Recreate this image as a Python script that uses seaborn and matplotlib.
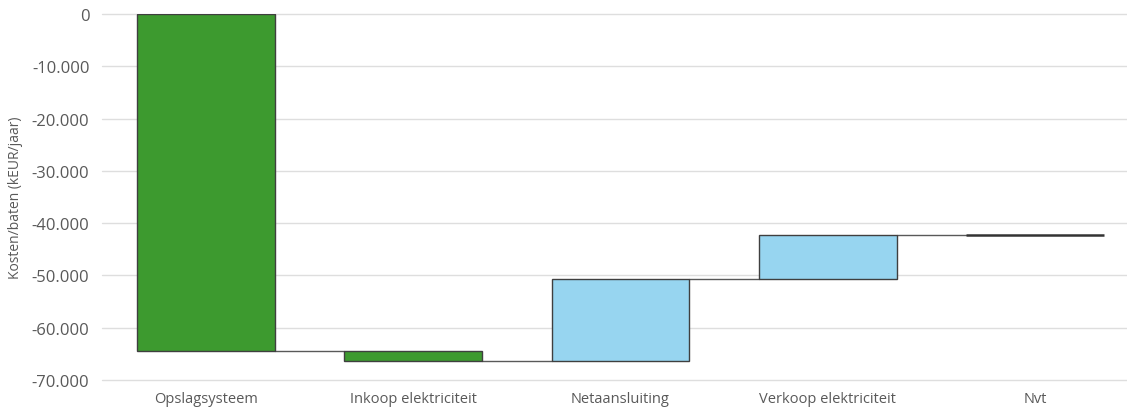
import numpy as np
import pandas as pd
import seaborn as sns
import matplotlib
matplotlib.use("Agg")
import matplotlib.pyplot as plt
from matplotlib.ticker import FuncFormatter

# Waterfall steps (kEUR/jaar)
categories = ["Opslagsysteem", "Inkoop elektriciteit", "Netaansluiting",
              "Verkoop elektriciteit", "Nvt"]
changes = [-64400, -1900, 15700, 8400, 0]
colors = ["#3d9a2f", "#3d9a2f", "#97d5f0", "#97d5f0", "#97d5f0"]

start = 0
levels = np.concatenate([[start], start + np.cumsum(changes)])
df = pd.DataFrame({
    "categorie": categories,
    "verandering": changes,
    "basis": levels[:-1],
})

sns.set_theme(style="white")
plt.rcParams["font.family"] = ["Open Sans", "DejaVu Sans"]
text_color = "#595959"

fig = plt.figure(figsize=(11.27, 4.14), dpi=100)
ax = fig.add_axes([102 / 1127, 33 / 414, 1037 / 1127, 366 / 414])

sns.barplot(data=df, x="categorie", y="verandering", order=categories,
            color=colors[0], saturation=1, bottom=df["basis"].to_numpy(),
            width=0.665, edgecolor="#3f3f3f", linewidth=1.0, ax=ax, zorder=3)
for patch, c in zip(ax.patches, colors):
    patch.set_facecolor(c)
# the final (zero-height) step shows as a heavier line
ax.patches[-1].set_linewidth(1.8)
ax.patches[-1].set_edgecolor("#333333")

# connector lines between consecutive bars
half = 0.665 / 2
for i in range(len(categories) - 1):
    ax.plot([i + half, i + 1 - half], [levels[i + 1]] * 2,
            color="#595959", lw=1.0, zorder=2)

ax.set_ylim(-70000, 0)
ax.set_xlim(-0.5, len(categories) - 0.5)
ax.set_yticks(np.arange(-70000, 1, 10000))
ax.yaxis.set_major_formatter(
    FuncFormatter(lambda v, _: f"{int(v):,}".replace(",", ".")))
ax.grid(axis="y", color="#dedede", lw=1.0, zorder=0)
for gl in ax.get_ygridlines():
    gl.set_clip_on(False)
ax.set_axisbelow(True)
for s in ax.spines.values():
    s.set_visible(False)

ax.tick_params(axis="y", labelsize=12, colors=text_color, length=0, pad=9)
ax.tick_params(axis="x", labelsize=10.5, colors=text_color, length=0, pad=8)
ax.set_xlabel("")
ax.set_ylabel("Kosten/baten (kEUR/jaar)", fontsize=10, color=text_color,
              labelpad=6)

fig.savefig("out.png", dpi=100)
